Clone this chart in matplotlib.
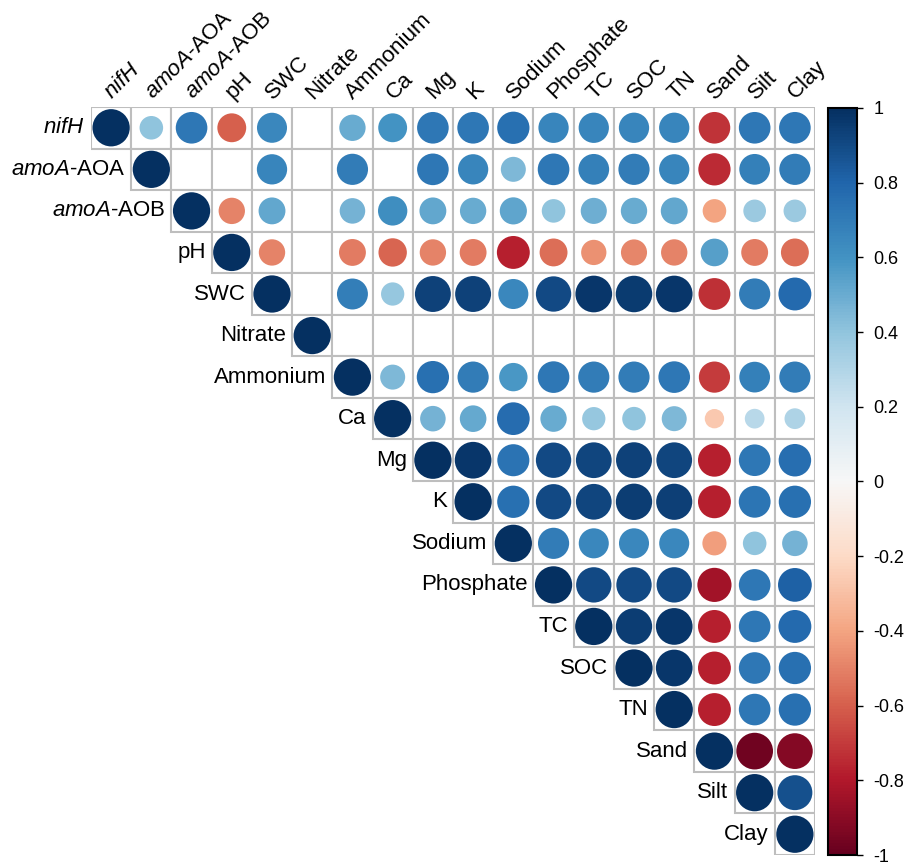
import numpy as np
import matplotlib
matplotlib.use("Agg")
import matplotlib.pyplot as plt
from matplotlib.patches import Rectangle
import matplotlib.cm as cm
import matplotlib.colors as mcolors

plt.rcParams["font.family"] = ["Liberation Sans", "DejaVu Sans"]
plt.rcParams["mathtext.fontset"] = "custom"
plt.rcParams["mathtext.rm"] = "Liberation Sans"
plt.rcParams["mathtext.it"] = "Liberation Sans:italic"
plt.rcParams["axes.unicode_minus"] = False

LABELS = [
    r"$\mathit{nifH}$", r"$\mathit{amoA}$-AOA", r"$\mathit{amoA}$-AOB",
    "pH", "SWC", "Nitrate", "Ammonium", "Ca", "Mg", "K", "Sodium",
    "Phosphate", "TC", "SOC", "TN", "Sand", "Silt", "Clay",
]

N = None  # not significant -> blank cell

# upper triangle, each row starts at the diagonal
R_NIFH = [1, 0.40, 0.72, -0.60, 0.65, N, 0.50, 0.60, 0.72, 0.72, 0.75, 0.66,
          0.66, 0.66, 0.66, -0.72, 0.72, 0.72]
R_AOA = [1, N, N, 0.66, N, 0.70, N, 0.72, 0.66, 0.45, 0.72, 0.68, 0.70,
         0.66, -0.75, 0.68, 0.70]
R_AOB = [1, -0.50, 0.52, N, 0.47, 0.62, 0.52, 0.50, 0.53, 0.40, 0.49, 0.50,
         0.52, -0.40, 0.37, 0.37]
R_PH = [1, -0.50, N, -0.52, -0.58, -0.50, -0.52, -0.78, -0.56, -0.46,
        -0.49, -0.50, 0.55, -0.52, -0.56]
R_SWC = [1, N, 0.69, 0.39, 0.93, 0.93, 0.65, 0.90, 0.97, 0.96, 0.97, -0.73,
         0.70, 0.78]
R_NITRATE = [1, N, N, N, N, N, N, N, N, N, N, N, N]
R_AMMONIUM = [1, 0.45, 0.75, 0.70, 0.58, 0.72, 0.70, 0.70, 0.72, -0.70,
              0.68, 0.70]
R_CA = [1, 0.47, 0.51, 0.77, 0.50, 0.39, 0.40, 0.45, -0.27, 0.28, 0.31]
R_MG = [1, 0.97, 0.74, 0.90, 0.92, 0.93, 0.92, -0.78, 0.72, 0.76]
R_K = [1, 0.75, 0.90, 0.92, 0.95, 0.94, -0.78, 0.73, 0.75]
R_SODIUM = [1, 0.70, 0.65, 0.65, 0.65, -0.42, 0.40, 0.47]
R_PHOSPHATE = [1, 0.90, 0.90, 0.90, -0.84, 0.72, 0.82]
R_TC = [1, 0.95, 0.97, -0.78, 0.72, 0.78]
R_SOC = [1, 0.97, -0.78, 0.72, 0.75]
R_TN = [1, -0.78, 0.72, 0.75]
R_SAND = [1, -0.97, -0.92]
R_SILT = [1, 0.88]
R_CLAY = [1]

ROWS = [R_NIFH, R_AOA, R_AOB, R_PH, R_SWC, R_NITRATE, R_AMMONIUM, R_CA, R_MG,
        R_K, R_SODIUM, R_PHOSPHATE, R_TC, R_SOC, R_TN, R_SAND, R_SILT, R_CLAY]

n = len(LABELS)
xs, ys, vals = [], [], []
for i, row in enumerate(ROWS):
    for k, v in enumerate(row):
        if v is not None:
            xs.append(i + k + 0.5)
            ys.append(i + 0.5)
            vals.append(v)
vals = np.array(vals)

W, H = 917, 863
fig = plt.figure(figsize=(W / 100, H / 100), dpi=100)
ax = fig.add_axes([91 / W, 1 - 855 / H, 724 / W, 748 / H])

# grid of the upper triangle
for i in range(n):
    for j in range(i, n):
        ax.add_patch(Rectangle((j, i), 1, 1, facecolor="white",
                               edgecolor="#BEBEBE", linewidth=1.5, zorder=1))

cmap = plt.get_cmap("RdBu")
norm = mcolors.Normalize(-1, 1)
ax.scatter(xs, ys, s=720 * np.abs(vals), c=vals, cmap=cmap, norm=norm,
           linewidths=0, zorder=3)

ax.set_xlim(0, n)
ax.set_ylim(n, 0)
ax.axis("off")

for i, lab in enumerate(LABELS):
    # row label just left of the diagonal cell
    ax.text(i - 0.15, i + 0.5, lab, ha="right", va="center", fontsize=16)
    # column label above the grid
    ax.text(i + 0.52, -0.18, lab, ha="left", va="baseline", fontsize=16,
            rotation=45, rotation_mode="anchor")

cax = fig.add_axes([828 / W, 1 - 855 / H, 29 / W, 747 / H])
cb = fig.colorbar(cm.ScalarMappable(norm=norm, cmap=cmap), cax=cax)
ticks = np.round(np.linspace(-1, 1, 11), 1)
cb.set_ticks(ticks)
cb.set_ticklabels([f"{t:g}" for t in ticks])
cb.outline.set_linewidth(1.5)
cax.tick_params(labelsize=13, length=4, width=1, pad=8)

fig.savefig("out.png", dpi=100)
